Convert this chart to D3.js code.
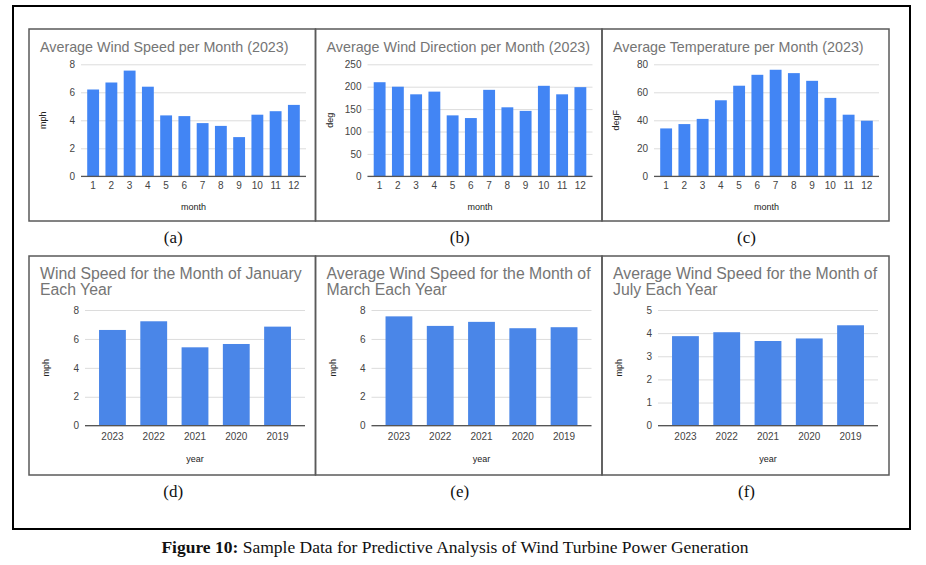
<!DOCTYPE html>
<html>
<head>
<meta charset="utf-8">
<script src="https://cdn.jsdelivr.net/npm/d3@7"></script>
<style>
  html, body { margin: 0; padding: 0; background: #fff; }
  svg { display: block; }
</style>
</head>
<body>
<svg id="fig" width="926" height="565"></svg>
<script>
// ---------- DATA ----------
const months = ["1","2","3","4","5","6","7","8","9","10","11","12"];
const windSpeed2023 = [6.2, 6.7, 7.55, 6.4, 4.35, 4.3, 3.8, 3.6, 2.8, 4.4, 4.65, 5.1];
const windDirection2023 = [210, 200, 183, 189, 136, 130, 193, 154, 146, 202, 183, 199];
const temperature2023 = [34.2, 37.3, 41, 54.3, 64.7, 72.5, 76.1, 73.7, 68.2, 56, 44, 39.7];

const years = ["2023", "2022", "2021", "2020", "2019"];
const januarySpeed = [6.62, 7.22, 5.42, 5.65, 6.85];
const marchSpeed = [7.56, 6.9, 7.18, 6.74, 6.81];
const julySpeed = [3.87, 4.04, 3.66, 3.77, 4.34];

const ticksSpeed = [0, 2, 4, 6, 8];
const ticksDirection = [0, 50, 100, 150, 200, 250];
const ticksTemperature = [0, 20, 40, 60, 80];
const ticksJuly = [0, 1, 2, 3, 4, 5];

const panelLetters = ["(a)", "(b)", "(c)", "(d)", "(e)", "(f)"];
const titles = [
  ["Average Wind Speed per Month (2023)"],
  ["Average Wind Direction per Month (2023)"],
  ["Average Temperature per Month (2023)"],
  ["Wind Speed for the Month of January", "Each Year"],
  ["Average Wind Speed for the Month of", "March Each Year"],
  ["Average Wind Speed for the Month of", "July Each Year"]
];
const yTitles = ["mph", "deg", "degF", "mph", "mph", "mph"];
const xTitles = ["month", "month", "month", "year", "year", "year"];
const figureLabel = "Figure 10:";
const figureText = " Sample Data for Predictive Analysis of Wind Turbine Power Generation";

// ---------- LAYOUT ----------
const svg = d3.select("#fig");
const sans = "'Liberation Sans', Arial, sans-serif";
const serif = "'Liberation Serif', 'Times New Roman', serif";

const colX = [29, 315.5, 602, 889];
const rows = [
  { top: 29, bottom: 221, titleY: 23, lineH: 15, titleSize: 14.3, plotTop: 35.3, plotBottom: 147.3, plotLeft: 52, plotRight: 277, tickDy: 12.5, xTitleDy: 34, barColor: "#4285f4", yTitleX: 14, letterY: 243 },
  { top: 256, bottom: 475, titleY: 22.5, lineH: 16.5, titleSize: 15.8, plotTop: 54, plotBottom: 169.7, plotLeft: 56, plotRight: 276, tickDy: 14, xTitleDy: 36, barColor: "#4a86e8", yTitleX: 17, letterY: 497 }
];

const panels = [
  { row: 0, col: 0, cats: months, vals: windSpeed2023, ticks: ticksSpeed },
  { row: 0, col: 1, cats: months, vals: windDirection2023, ticks: ticksDirection },
  { row: 0, col: 2, cats: months, vals: temperature2023, ticks: ticksTemperature },
  { row: 1, col: 0, cats: years, vals: januarySpeed, ticks: ticksSpeed },
  { row: 1, col: 1, cats: years, vals: marchSpeed, ticks: ticksSpeed },
  { row: 1, col: 2, cats: years, vals: julySpeed, ticks: ticksJuly }
];

// outer frame
svg.append("rect")
  .attr("x", 13).attr("y", 6).attr("width", 897).attr("height", 523)
  .attr("fill", "none").attr("stroke", "#000").attr("stroke-width", 2);

panels.forEach((p, i) => {
  const r = rows[p.row];
  const x0 = colX[p.col], x1 = colX[p.col + 1];
  const g = svg.append("g").attr("transform", `translate(${x0},${r.top})`);

  // panel frame
  svg.append("rect")
    .attr("x", x0).attr("y", r.top).attr("width", x1 - x0).attr("height", r.bottom - r.top)
    .attr("fill", "none").attr("stroke", "#5a5a5a").attr("stroke-width", 1.5);

  // title
  const t = g.append("text")
    .attr("x", 11).attr("y", r.titleY)
    .attr("font-family", sans).attr("font-size", r.titleSize)
    .attr("fill", "#757575");
  titles[i].forEach((line, k) => {
    t.append("tspan").attr("x", 11).attr("dy", k === 0 ? 0 : r.lineH).text(line);
  });

  const x = d3.scaleBand()
    .domain(p.cats)
    .range([r.plotLeft, r.plotRight])
    .paddingInner(0.35)
    .paddingOuter(0.34);
  const y = d3.scaleLinear()
    .domain([0, d3.max(p.ticks)])
    .range([r.plotBottom, r.plotTop]);

  // y axis with gridlines
  const yAxis = g.append("g")
    .attr("transform", `translate(${r.plotLeft},0)`)
    .call(d3.axisLeft(y).tickValues(p.ticks).tickSize(-(r.plotRight - r.plotLeft)).tickPadding(6).tickFormat(d3.format("d")));
  yAxis.select(".domain").remove();
  yAxis.selectAll(".tick line").attr("stroke", "#dcdcdc").attr("stroke-width", 1);
  yAxis.selectAll(".tick text")
    .attr("font-family", sans).attr("font-size", 10).attr("fill", "#444");

  // bars
  g.append("g").selectAll("rect")
    .data(p.vals)
    .join("rect")
    .attr("x", (d, k) => x(p.cats[k]))
    .attr("y", d => y(d))
    .attr("width", x.bandwidth())
    .attr("height", d => y(0) - y(d))
    .attr("fill", r.barColor);

  // baseline
  g.append("line")
    .attr("x1", r.plotLeft).attr("x2", r.plotRight)
    .attr("y1", y(0)).attr("y2", y(0))
    .attr("stroke", "#555").attr("stroke-width", 1.2);

  // x axis labels
  const xAxis = g.append("g")
    .attr("transform", `translate(0,${r.plotBottom})`)
    .call(d3.axisBottom(x).tickSize(0).tickPadding(r.tickDy - 7));
  xAxis.select(".domain").remove();
  xAxis.selectAll(".tick text")
    .attr("font-family", sans).attr("font-size", 10).attr("fill", "#444");

  // axis titles
  g.append("text")
    .attr("x", (r.plotLeft + r.plotRight) / 2)
    .attr("y", r.plotBottom + r.xTitleDy)
    .attr("text-anchor", "middle")
    .attr("font-family", sans).attr("font-size", 9).attr("fill", "#222")
    .text(xTitles[i]);
  g.append("text")
    .attr("transform", `translate(${r.yTitleX},${(r.plotTop + r.plotBottom) / 2}) rotate(-90)`)
    .attr("text-anchor", "middle")
    .attr("dy", "0.35em")
    .attr("font-family", sans).attr("font-size", 9).attr("fill", "#222")
    .text(yTitles[i]);

  // panel letter
  svg.append("text")
    .attr("x", (x0 + x1) / 2 + 1)
    .attr("y", r.letterY)
    .attr("text-anchor", "middle")
    .attr("font-family", serif).attr("font-size", 17).attr("fill", "#111")
    .text(panelLetters[i]);
});

// figure caption
const cap = svg.append("text")
  .attr("x", 455).attr("y", 553)
  .attr("text-anchor", "middle")
  .attr("font-family", serif).attr("font-size", 17.5).attr("fill", "#111");
cap.append("tspan").attr("font-weight", "bold").text(figureLabel);
cap.append("tspan").text(figureText);
</script>
</body>
</html>
